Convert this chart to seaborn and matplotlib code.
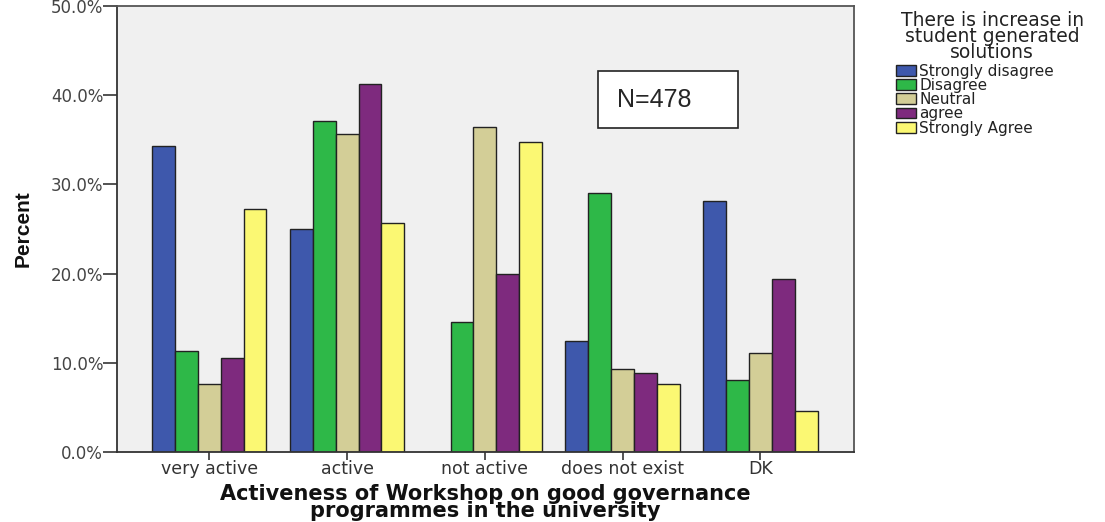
import pandas as pd
import matplotlib
matplotlib.use("Agg")
import matplotlib.pyplot as plt
import matplotlib.ticker as mticker
from matplotlib.patches import Rectangle
import seaborn as sns

# categories on x axis
activeness = ["very active", "active", "not active", "does not exist", "DK"]
responses = ["Strongly disagree", "Disagree", "Neutral", "agree", "Strongly Agree"]

# percent per response, one list per response level (across activeness)
strongly_disagree = [34.3, 25.0, 0.0, 12.5, 28.1]
disagree = [11.3, 37.1, 14.6, 29.0, 8.1]
neutral = [7.6, 35.6, 36.4, 9.3, 11.1]
agree = [10.5, 41.3, 20.0, 8.9, 19.4]
strongly_agree = [27.2, 25.7, 34.8, 7.6, 4.6]

colors = ["#3E58AC", "#2EB848", "#D3CE97", "#7E2A7E", "#FBF873"]

series = [strongly_disagree, disagree, neutral, agree, strongly_agree]
rows = []
for resp, vals in zip(responses, series):
    for cat, v in zip(activeness, vals):
        rows.append({"activeness": cat, "response": resp, "percent": v})
df = pd.DataFrame(rows)

sns.set_style("white")
plt.rcParams["font.family"] = ["DejaVu Sans"]

fig = plt.figure(figsize=(11.05, 5.22), dpi=100)
ax = fig.add_axes([0.1059, 0.1341, 0.667, 0.8544])
ax.set_facecolor("#F0F0F0")

sns.barplot(data=df, x="activeness", y="percent", hue="response",
            order=activeness, hue_order=responses, palette=colors,
            width=0.83, edgecolor="#222222", linewidth=1.0,
            saturation=1, ax=ax, legend=False)

ax.set_ylim(0, 50)
ax.set_xlim(-0.67, 4.68)
ax.set_yticks([0, 10, 20, 30, 40, 50])
ax.yaxis.set_major_formatter(mticker.FuncFormatter(lambda v, p: f"{v:.1f}%"))
ax.tick_params(axis="y", left=True, length=10, width=1.3, color="#444444",
               labelsize=12, labelcolor="#444444", pad=0)
ax.tick_params(axis="x", bottom=True, length=6, width=1.3, color="#444444",
               labelsize=12.5, labelcolor="#333333", pad=0)
for s in ax.spines.values():
    s.set_color("#555555")
    s.set_linewidth(1.3)
ax.spines["left"].set_color("#333333")
ax.spines["bottom"].set_color("#333333")

ax.set_ylabel("Percent", fontsize=15, fontweight="bold",
              family=["Liberation Sans"], color="#111111")
ax.yaxis.set_label_coords(-0.115, 0.5)
ax.set_xlabel("Activeness of Workshop on good governance\nprogrammes in the university",
              fontsize=15, fontweight="bold", labelpad=4, linespacing=0.8,
              color="#111111")

# N box
ax.add_patch(Rectangle((0.652, 0.726), 0.19, 0.128, transform=ax.transAxes,
                       facecolor="white", edgecolor="#222222", linewidth=1.2,
                       zorder=5))
ax.text(0.678, 0.79, "N=478", transform=ax.transAxes, fontsize=18,
        family=["Liberation Sans"], va="center", ha="left", zorder=6)

# legend, title placed separately
fig.text(0.898, 0.978, "There is increase in\nstudent generated\nsolutions",
         ha="center", va="top", fontsize=13.5, linespacing=0.78,
         multialignment="center", color="#222222")
handles = [Rectangle((0, 0), 1, 1, facecolor=c, edgecolor="#222222", linewidth=1)
           for c in colors]
leg = fig.legend(handles, responses,
                 loc="upper left", bbox_to_anchor=(0.811, 0.878),
                 frameon=False, fontsize=11, labelcolor="#222222",
                 handlelength=1.3, handleheight=0.7, handletextpad=0.2,
                 labelspacing=-0.05, borderaxespad=0, borderpad=0)

fig.savefig("out.png", dpi=100)
